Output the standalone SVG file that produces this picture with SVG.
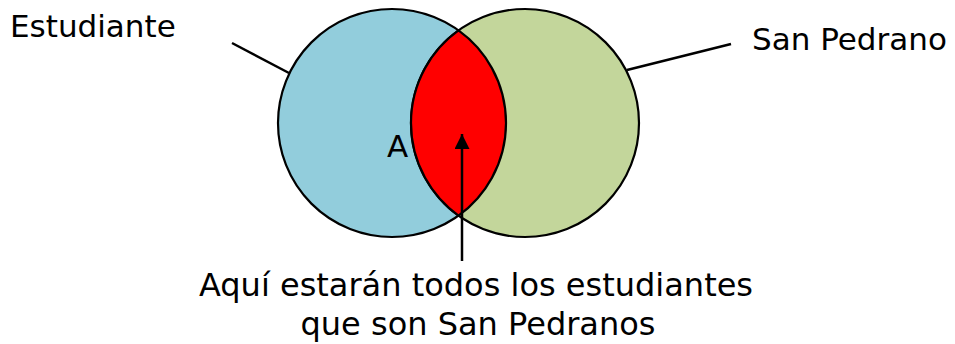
<svg xmlns="http://www.w3.org/2000/svg" width="955" height="344" viewBox="0 0 955 344">
<defs>
<style>
.t{font-family:"DejaVu Sans",Verdana,sans-serif;font-size:31px;fill:#000}
.b{font-size:32px}
.c{stroke:#000;stroke-width:2.2}
.ln{stroke:#000;stroke-width:2.5;fill:none}
</style>
<marker id="ah" markerWidth="15" markerHeight="15" refX="15" refY="7.5" orient="auto" markerUnits="userSpaceOnUse">
<path d="M0,0 L15,7.5 L0,15 Z" fill="#000"/>
</marker>
</defs>
<rect width="955" height="344" fill="#fff"/>
<g id="estudiante">
<circle class="c" cx="392" cy="123" r="114" fill="#92CDDC"/>
<text class="t" x="387" y="157">A</text>
</g>
<g id="sanpedrano">
<circle class="c" cx="525" cy="123" r="114" fill="#C3D69B"/>
</g>
<g id="interseccion">
<path class="c" d="M458.5,30.4 A114,114 0 0,0 458.5,215.6 A114,114 0 0,0 458.5,30.4 Z" fill="#FF0000"/>
</g>
<g id="labels">
<text class="t" x="10" y="37">Estudiante</text>
<text class="t" x="752" y="50">San Pedrano</text>
<text class="t b" x="476" y="296" text-anchor="middle">Aquí estarán todos los estudiantes</text>
<text class="t b" x="478" y="335" text-anchor="middle">que son San Pedranos</text>
</g>
<g id="connectors">
<line class="ln" x1="232" y1="43" x2="289" y2="73"/>
<line class="ln" x1="627" y1="70" x2="731" y2="44"/>
<line class="ln" x1="462" y1="261" x2="462" y2="134" marker-end="url(#ah)"/>
</g>
</svg>
